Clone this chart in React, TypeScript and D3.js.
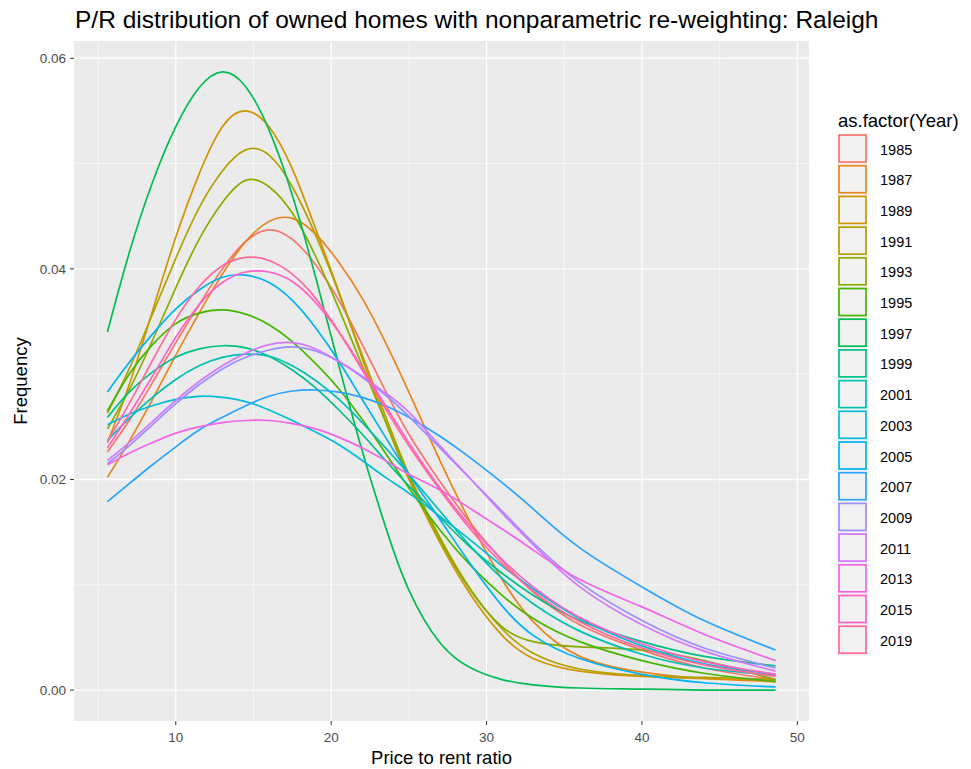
import React from 'react';
import * as d3 from 'd3';

// x positions (price to rent ratio) where the curves were read
const X_GRID = [5.6, 7, 8.5, 10, 11.5, 13, 14.5, 16, 17.5, 19, 20.5, 22, 23.5, 25, 27, 29, 31, 33, 36, 40, 44, 48.6];

const Y1985 = [0.0226, 0.0256, 0.0292, 0.0330, 0.0366, 0.0400, 0.0426, 0.0437, 0.0428, 0.0404, 0.0370, 0.0328, 0.0284, 0.0243, 0.0198, 0.0158, 0.0123, 0.0093, 0.0062, 0.0038, 0.0021, 0.0010];
const Y1987 = [0.0202, 0.0236, 0.0276, 0.0318, 0.0358, 0.0395, 0.0426, 0.0445, 0.0448, 0.0433, 0.0406, 0.0372, 0.0330, 0.0283, 0.0218, 0.0158, 0.0105, 0.0065, 0.0032, 0.0017, 0.0011, 0.0008];
const Y1989 = [0.0235, 0.0290, 0.0360, 0.0430, 0.0490, 0.0535, 0.0550, 0.0535, 0.0495, 0.0438, 0.0378, 0.0315, 0.0255, 0.0200, 0.0140, 0.0090, 0.0052, 0.0030, 0.0018, 0.0013, 0.0011, 0.0009];
const Y1991 = [0.0263, 0.0305, 0.0357, 0.0410, 0.0458, 0.0493, 0.0513, 0.0508, 0.0478, 0.0432, 0.0377, 0.0318, 0.0260, 0.0205, 0.0145, 0.0095, 0.0058, 0.0035, 0.0020, 0.0014, 0.0012, 0.0010];
const Y1993 = [0.0248, 0.0285, 0.0332, 0.0382, 0.0428, 0.0463, 0.0484, 0.0478, 0.0453, 0.0412, 0.0362, 0.0308, 0.0255, 0.0203, 0.0143, 0.0094, 0.0060, 0.0046, 0.0041, 0.0038, 0.0028, 0.0010];
const Y1995 = [0.0265, 0.0300, 0.0328, 0.0348, 0.0358, 0.0361, 0.0357, 0.0347, 0.0331, 0.0310, 0.0286, 0.0257, 0.0225, 0.0192, 0.0152, 0.0118, 0.0090, 0.0068, 0.0046, 0.0028, 0.0016, 0.0008];
const Y1997 = [0.0340, 0.0415, 0.0482, 0.0535, 0.0572, 0.0587, 0.0573, 0.0532, 0.0470, 0.0392, 0.0308, 0.0227, 0.0155, 0.0095, 0.0045, 0.0021, 0.0010, 0.0005, 0.0002, 0.0001, 0.0000, 0.0000];
const Y1999 = [0.0259, 0.0283, 0.0302, 0.0316, 0.0324, 0.0327, 0.0325, 0.0317, 0.0304, 0.0287, 0.0266, 0.0243, 0.0218, 0.0194, 0.0164, 0.0135, 0.0111, 0.0090, 0.0066, 0.0046, 0.0032, 0.0023];
const Y2001 = [0.0237, 0.0258, 0.0278, 0.0295, 0.0308, 0.0316, 0.0319, 0.0317, 0.0308, 0.0294, 0.0276, 0.0254, 0.0230, 0.0205, 0.0170, 0.0136, 0.0106, 0.0082, 0.0056, 0.0034, 0.0021, 0.0014];
const Y2003 = [0.0252, 0.0262, 0.0270, 0.0276, 0.0279, 0.0278, 0.0274, 0.0266, 0.0256, 0.0245, 0.0233, 0.0218, 0.0202, 0.0187, 0.0165, 0.0142, 0.0118, 0.0096, 0.0068, 0.0042, 0.0025, 0.0015];
const Y2005 = [0.0283, 0.0311, 0.0338, 0.0362, 0.0380, 0.0392, 0.0394, 0.0387, 0.0370, 0.0344, 0.0312, 0.0276, 0.0240, 0.0205, 0.0162, 0.0119, 0.0080, 0.0052, 0.0030, 0.0015, 0.0007, 0.0003];
const Y2007 = [0.0179, 0.0196, 0.0214, 0.0231, 0.0247, 0.0259, 0.0270, 0.0279, 0.0284, 0.0285, 0.0283, 0.0278, 0.0270, 0.0259, 0.0241, 0.0220, 0.0197, 0.0172, 0.0135, 0.0098, 0.0066, 0.0038];
const Y2009 = [0.0215, 0.0232, 0.0252, 0.0272, 0.0290, 0.0305, 0.0316, 0.0323, 0.0326, 0.0322, 0.0312, 0.0297, 0.0280, 0.0260, 0.0230, 0.0200, 0.0170, 0.0140, 0.0102, 0.0066, 0.0040, 0.0021];
const Y2011 = [0.0218, 0.0235, 0.0255, 0.0275, 0.0293, 0.0308, 0.0320, 0.0328, 0.0330, 0.0324, 0.0312, 0.0298, 0.0282, 0.0264, 0.0232, 0.0200, 0.0168, 0.0138, 0.0098, 0.0062, 0.0037, 0.0018];
const Y2013 = [0.0214, 0.0225, 0.0235, 0.0244, 0.0250, 0.0254, 0.0256, 0.0256, 0.0253, 0.0248, 0.0240, 0.0230, 0.0218, 0.0205, 0.0190, 0.0172, 0.0153, 0.0133, 0.0105, 0.0079, 0.0053, 0.0028];
const Y2015 = [0.0230, 0.0262, 0.0298, 0.0335, 0.0366, 0.0387, 0.0397, 0.0397, 0.0388, 0.0368, 0.0340, 0.0306, 0.0270, 0.0235, 0.0192, 0.0155, 0.0124, 0.0098, 0.0069, 0.0044, 0.0027, 0.0015];
const Y2019 = [0.0236, 0.0272, 0.0313, 0.0352, 0.0383, 0.0403, 0.0411, 0.0408, 0.0395, 0.0372, 0.0340, 0.0304, 0.0267, 0.0232, 0.0190, 0.0152, 0.0120, 0.0094, 0.0065, 0.0040, 0.0024, 0.0013];

const YEARS = ['1985', '1987', '1989', '1991', '1993', '1995', '1997', '1999', '2001', '2003', '2005', '2007', '2009', '2011', '2013', '2015', '2019'];
const VALUES = [Y1985, Y1987, Y1989, Y1991, Y1993, Y1995, Y1997, Y1999, Y2001, Y2003, Y2005, Y2007, Y2009, Y2011, Y2013, Y2015, Y2019];

const X_TICKS = [10, 20, 30, 40, 50];
const X_MINOR = [5, 15, 25, 35, 45];
const Y_TICKS = [0, 0.02, 0.04, 0.06];
const Y_MINOR = [0.01, 0.03, 0.05];

// R's hcl() (polar CIE-LUV) -> hex, like ggplot's hue palette
function hcl(h: number, c: number, l: number) {
  const rad = (h * Math.PI) / 180;
  const U = c * Math.cos(rad);
  const V = c * Math.sin(rad);
  const Xn = 95.047, Yn = 100, Zn = 108.883;
  const den = Xn + 15 * Yn + 3 * Zn;
  const un = (4 * Xn) / den, vn = (9 * Yn) / den;
  const Y = l > 8 ? Yn * Math.pow((l + 16) / 116, 3) : (Yn * l) / 903.3;
  const u = U / (13 * l) + un;
  const v = V / (13 * l) + vn;
  const X = (9 * Y * u) / (4 * v);
  const Z = -X / 3 - 5 * Y + (3 * Y) / v;
  const x = X / 100, y = Y / 100, z = Z / 100;
  const lin = [
    3.240479 * x - 1.53715 * y - 0.498535 * z,
    -0.969256 * x + 1.875992 * y + 0.041556 * z,
    0.055648 * x - 0.204043 * y + 1.057311 * z,
  ];
  const rgb = lin.map((t) => {
    const g = t <= 0.0031308 ? 12.92 * t : 1.055 * Math.pow(t, 1 / 2.4) - 0.055;
    return Math.round(Math.max(0, Math.min(1, g)) * 255);
  });
  return d3.rgb(rgb[0], rgb[1], rgb[2]).formatHex();
}

const n = YEARS.length;
const COLORS = YEARS.map((_, i) => hcl(15 + (i * 360) / n, 100, 65));

const panel = { left: 74, right: 809, top: 41, bottom: 721 };

export default function App() {
  const x = d3.scaleLinear().domain([3.45, 50.75]).range([panel.left, panel.right]);
  const y = d3.scaleLinear().domain([-0.002935, 0.06164]).range([panel.bottom, panel.top]);

  const line = d3
    .line<number>()
    .x((_, i) => x(X_GRID[i]))
    .y((d) => y(d))
    .curve(d3.curveNatural);

  const font = 'Liberation Sans, Arial, Helvetica, sans-serif';
  const keyStep = 30.7;
  const keyTop = 135;

  return (
    <svg width={971} height={769} style={{ position: 'absolute', left: 0, top: 0, background: '#fff' }} fontFamily={font}>
      <text x={75} y={28} fontSize={24.5} fill="#000">
        P/R distribution of owned homes with nonparametric re-weighting: Raleigh
      </text>

      <rect x={panel.left} y={panel.top} width={panel.right - panel.left} height={panel.bottom - panel.top} fill="#EBEBEB" />
      {X_MINOR.map((t) => (
        <line key={'xm' + t} x1={x(t)} x2={x(t)} y1={panel.top} y2={panel.bottom} stroke="#fff" strokeWidth={0.6} />
      ))}
      {Y_MINOR.map((t) => (
        <line key={'ym' + t} x1={panel.left} x2={panel.right} y1={y(t)} y2={y(t)} stroke="#fff" strokeWidth={0.6} />
      ))}
      {X_TICKS.map((t) => (
        <line key={'xg' + t} x1={x(t)} x2={x(t)} y1={panel.top} y2={panel.bottom} stroke="#fff" strokeWidth={1.3} />
      ))}
      {Y_TICKS.map((t) => (
        <line key={'yg' + t} x1={panel.left} x2={panel.right} y1={y(t)} y2={y(t)} stroke="#fff" strokeWidth={1.3} />
      ))}

      {VALUES.map((vals, i) => (
        <path key={YEARS[i]} d={line(vals) || ''} fill="none" stroke={COLORS[i]} strokeWidth={1.7} />
      ))}

      {/* axes */}
      {X_TICKS.map((t) => (
        <g key={'xt' + t}>
          <line x1={x(t)} x2={x(t)} y1={panel.bottom} y2={panel.bottom + 4} stroke="#333" strokeWidth={1} />
          <text x={x(t)} y={panel.bottom + 21} fontSize={13.5} fill="#4D4D4D" textAnchor="middle">
            {t}
          </text>
        </g>
      ))}
      {Y_TICKS.map((t) => (
        <g key={'yt' + t}>
          <line x1={panel.left - 4} x2={panel.left} y1={y(t)} y2={y(t)} stroke="#333" strokeWidth={1} />
          <text x={panel.left - 8} y={y(t) + 4.8} fontSize={13.5} fill="#4D4D4D" textAnchor="end">
            {d3.format('.2f')(t)}
          </text>
        </g>
      ))}
      <text x={(panel.left + panel.right) / 2} y={764} fontSize={18.5} fill="#000" textAnchor="middle">
        Price to rent ratio
      </text>
      <text
        transform={`translate(27,${(panel.top + panel.bottom) / 2}) rotate(-90)`}
        fontSize={18.5}
        fill="#000"
        textAnchor="middle"
      >
        Frequency
      </text>

      {/* legend */}
      <text x={838} y={127} fontSize={18.5} fill="#000">
        as.factor(Year)
      </text>
      {YEARS.map((yr, i) => (
        <g key={'lg' + yr} transform={`translate(838,${keyTop + i * keyStep})`}>
          <rect x={0} y={-1} width={29} height={keyStep} fill="#F2F2F2" />
          <rect x={1} y={0} width={27} height={27} fill="none" stroke={COLORS[i]} strokeWidth={1.7} />
          <text x={42} y={19.5} fontSize={14.5} fill="#000">
            {yr}
          </text>
        </g>
      ))}
    </svg>
  );
}
